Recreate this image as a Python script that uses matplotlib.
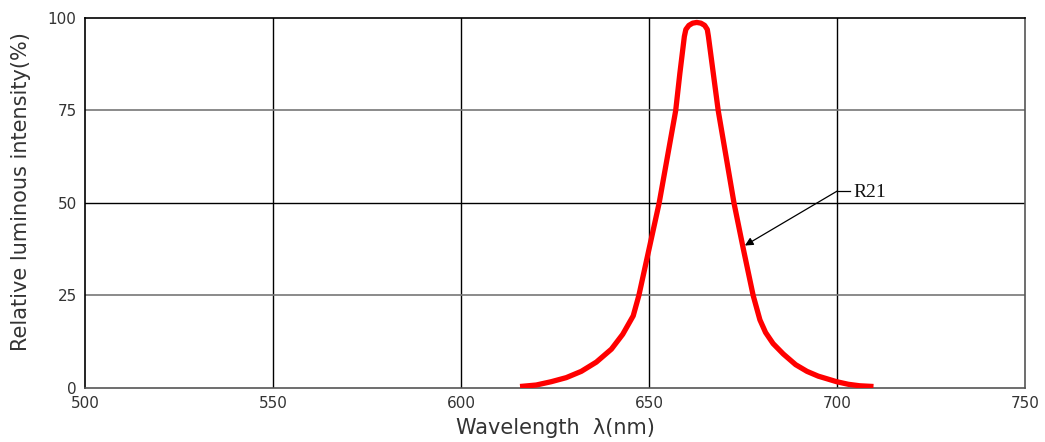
import matplotlib.pyplot as plt
import numpy as np

# spectrum (wavelength nm, relative intensity %)
wavelength = [615.7, 620, 624, 628, 632, 636, 640, 643, 645.8, 647.3, 650.0,
              652.7, 654.9, 657.1, 658.2, 659.4, 659.8, 660.6, 661.6, 662.7,
              663.8, 664.8, 665.5, 665.8, 667.1, 668.4, 670.5, 672.6, 675.1,
              677.7, 679.5, 681, 683, 685.7, 689, 692, 695, 699.9, 703, 706, 709.7]
intensity = [0.4, 0.8, 1.7, 2.8, 4.5, 7.0, 10.5, 14.5, 19.5, 25, 37.5,
             50, 62.5, 75, 85, 95.0, 96.9, 98.0, 98.6, 98.8,
             98.6, 98.0, 96.9, 95.0, 85, 75, 62.5, 50, 37.5,
             25, 18.4, 15, 12, 9.2, 6.3, 4.5, 3.2, 1.7, 1.0, 0.6, 0.4]

xticks = [500, 550, 600, 650, 700, 750]
yticks = [0, 25, 50, 75, 100]

label_name = "R21"
label_xy = (675.5, 38.5)     # arrow tip on the curve
label_text_xy = (704.3, 52.8)

fig = plt.figure(figsize=(10.45, 4.42), dpi=100)
ax = fig.add_axes([0.0813, 0.1222, 0.8996, 0.8371])

ax.plot(wavelength, intensity, color="#ff0000", lw=3.8, solid_capstyle="butt",
        solid_joinstyle="round", zorder=3)

ax.set_xlim(500, 750)
ax.set_ylim(0, 100)
ax.set_xticks(xticks)
ax.set_yticks(yticks)
ax.tick_params(length=0, labelsize=11, colors="#333333", pad=6)

# grid: verticals black, 25/75 grey, 50 black
for x in xticks[1:-1]:
    ax.axvline(x, color="black", lw=1.0, zorder=1)
for y in [25, 75]:
    ax.axhline(y, color="#777777", lw=1.2, zorder=1)
ax.axhline(50, color="black", lw=1.0, zorder=1)

for side in ["top", "left"]:
    ax.spines[side].set_color("black")
for side in ["bottom", "right"]:
    ax.spines[side].set_color("#555555")
for s in ax.spines.values():
    s.set_linewidth(1.2)

ax.set_xlabel("Wavelength  \u03bb(nm)", fontsize=15, color="#333333", labelpad=5)
ax.set_ylabel("Relative luminous intensity(%)", fontsize=15, color="#333333")
ax.yaxis.set_label_coords(-0.057, 0.53)

# leader: short horizontal piece then arrow to curve
elbow = (700.0, 53.2)
ax.plot([elbow[0], elbow[0] + 3.5], [elbow[1], elbow[1]], color="black", lw=0.9)
ax.annotate("", xy=label_xy, xytext=elbow,
            arrowprops=dict(arrowstyle="-|>", color="black", lw=0.9,
                            mutation_scale=12, shrinkA=0, shrinkB=0))
ax.text(label_text_xy[0], label_text_xy[1], label_name, fontsize=14,
        family="Liberation Serif", va="center", ha="left", color="#111111")

fig.savefig("out.png", dpi=100)
